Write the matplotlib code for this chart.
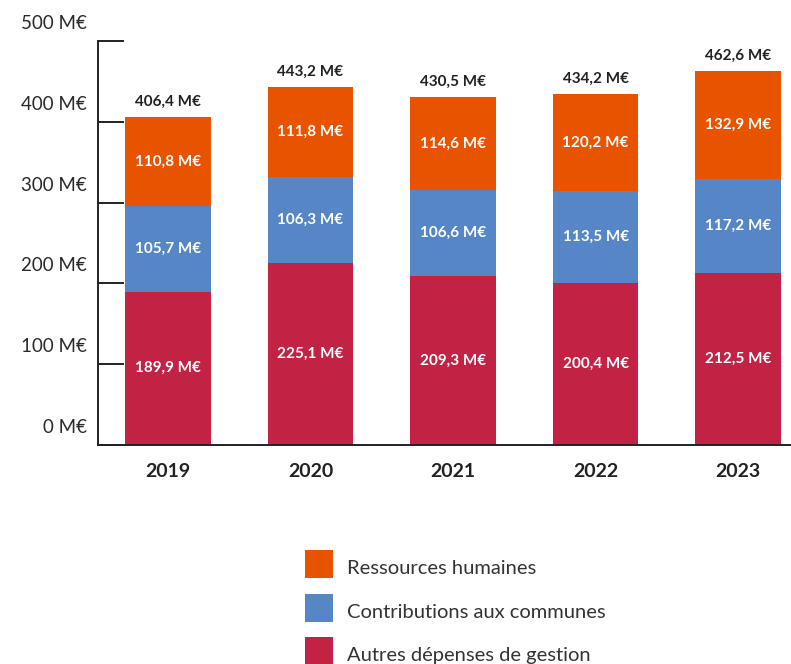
import matplotlib
matplotlib.use("Agg")
import matplotlib.pyplot as plt
import matplotlib.transforms as mtransforms
from matplotlib.patches import Rectangle
import numpy as np

years = ["2019", "2020", "2021", "2022", "2023"]
autres = [189.9, 225.1, 209.3, 200.4, 212.5]
contributions = [105.7, 106.3, 106.6, 113.5, 117.2]
rh = [110.8, 111.8, 114.6, 120.2, 132.9]
totals = [406.4, 443.2, 430.5, 434.2, 462.6]

series_names = ["Autres dépenses de gestion", "Contributions aux communes", "Ressources humaines"]
series_colors = ["#C22345", "#5686C6", "#E85300"]

plt.rcParams["font.family"] = ["Lato", "DejaVu Sans"]


def fmt(v):
    return f"{v:.1f}".replace(".", ",") + " M€"


W, H = 791, 664
fig = plt.figure(figsize=(W / 100, H / 100), dpi=100)
left, right, top, bottom = 98, 791, 41, 445
ax = fig.add_axes([left / W, 1 - bottom / H, (right - left) / W, (bottom - top) / H])

x = np.arange(len(years))
width = 0.6
base = np.zeros(len(years))
for vals, color in zip([autres, contributions, rh], series_colors):
    vals = np.array(vals)
    ax.bar(x, vals, width, bottom=base, color=color, linewidth=0)
    for xi, b, v in zip(x, base, vals):
        ax.text(xi, b + v / 2, fmt(v), ha="center", va="center", color="white",
                fontsize=11, fontweight="bold")
    base = base + vals

for xi, b, t in zip(x, base, totals):
    ax.text(xi, b + 10, fmt(t), ha="center", va="bottom", color="#222222",
            fontsize=11, fontweight="bold")

ax.set_xlim(-0.49, 4.37)
ax.set_ylim(0, 500)
ax.set_yticks(np.arange(0, 501, 100))
ax.set_yticklabels([f"{v} M€" for v in range(0, 501, 100)])
ax.set_xticks(x)
ax.set_xticklabels(years, fontweight="bold")

for s in ["top", "right"]:
    ax.spines[s].set_visible(False)
for s in ["left", "bottom"]:
    ax.spines[s].set_color("#222222")
    ax.spines[s].set_linewidth(1.4)

ax.tick_params(axis="y", direction="in", length=19, width=1.4, color="#222222",
               labelsize=13.5, labelcolor="#2a2a2a", pad=8)
ax.tick_params(axis="x", length=0, labelsize=14, labelcolor="#222222", pad=13)

offset = mtransforms.ScaledTranslation(0, 19 / 100, fig.dpi_scale_trans)
for lbl in ax.get_yticklabels():
    lbl.set_transform(lbl.get_transform() + offset)

# legend drawn by hand: squares + labels, top row first
for i, (name, color) in enumerate(zip(series_names[::-1], series_colors[::-1])):
    y0 = 550 + i * 43.5
    fig.add_artist(Rectangle((305 / W, 1 - (y0 + 28) / H), 28 / W, 28 / H,
                             transform=fig.transFigure, facecolor=color,
                             edgecolor="none"))
    fig.text(347 / W, 1 - (y0 + 19) / H, name, ha="left", va="center",
             fontsize=14.5, color="#333333")

fig.savefig("out.png", dpi=100)
